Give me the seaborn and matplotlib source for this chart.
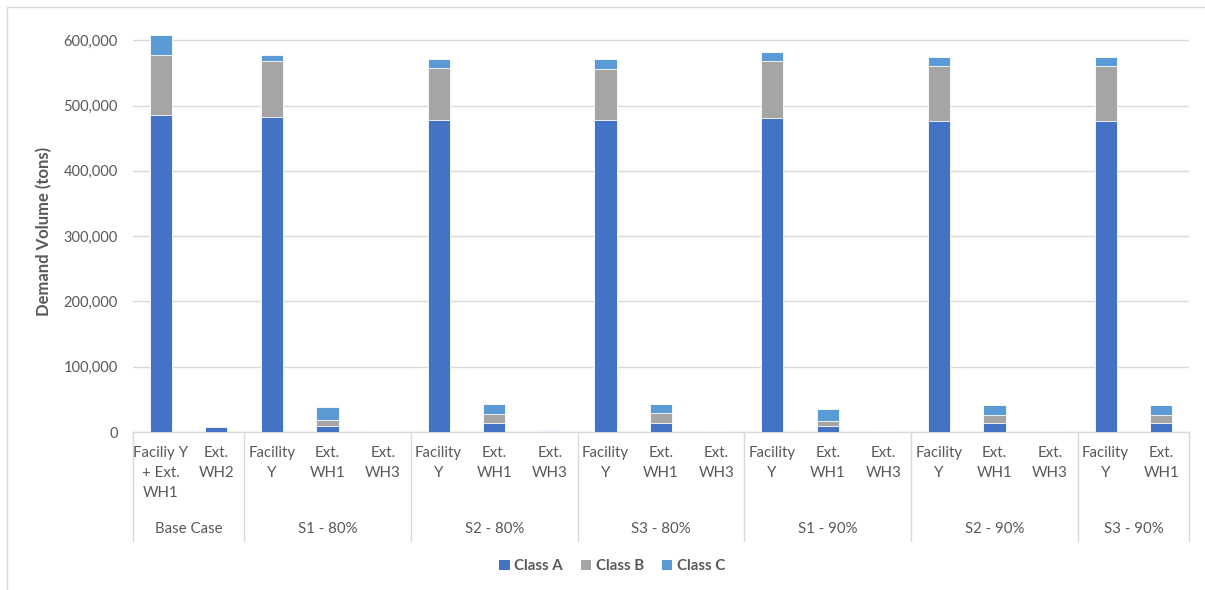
import matplotlib
matplotlib.use("Agg")
import matplotlib.pyplot as plt
import matplotlib.transforms as mtransforms
from matplotlib.patches import Patch, Rectangle
from matplotlib.ticker import FuncFormatter
import seaborn as sns
import pandas as pd

# ---------------- data ----------------
groups = ["Base Case", "S1 - 80%", "S2 - 80%", "S3 - 80%", "S1 - 90%", "S2 - 90%", "S3 - 90%"]
bar_group = ["Base Case", "Base Case",
             "S1 - 80%", "S1 - 80%", "S1 - 80%",
             "S2 - 80%", "S2 - 80%", "S2 - 80%",
             "S3 - 80%", "S3 - 80%", "S3 - 80%",
             "S1 - 90%", "S1 - 90%", "S1 - 90%",
             "S2 - 90%", "S2 - 90%", "S2 - 90%",
             "S3 - 90%", "S3 - 90%"]
bar_labels = ["Faciliy Y\n+ Ext.\nWH1", "Ext.\nWH2",
              "Facility\nY", "Ext.\nWH1", "Ext.\nWH3",
              "Facility\nY", "Ext.\nWH1", "Ext.\nWH3",
              "Facility\nY", "Ext.\nWH1", "Ext.\nWH3",
              "Facility\nY", "Ext.\nWH1", "Ext.\nWH3",
              "Facility\nY", "Ext.\nWH1", "Ext.\nWH3",
              "Facility\nY", "Ext.\nWH1"]
class_a = [485000, 7000, 482000, 9700, 300, 478000, 13300, 800, 478000, 14300, 300,
           481300, 9700, 300, 476700, 14300, 300, 476700, 14300]
class_b = [93000, 0, 85700, 8700, 300, 79300, 14300, 300, 78800, 14300, 300,
           87500, 7200, 300, 84300, 11300, 300, 84300, 11300]
class_c = [29600, 500, 10300, 20400, 400, 14000, 15400, 1900, 14300, 14300, 400,
           13300, 17900, 400, 14000, 16400, 400, 14000, 16400]
series_names = ["Class A", "Class B", "Class C"]
y_ticks = [0, 100000, 200000, 300000, 400000, 500000, 600000]

# ---------------- style ----------------
sns.set_style("white")
plt.rcParams["font.family"] = ["Lato", "DejaVu Sans"]
TXT = "#595959"
GRID = "#d9d9d9"
COL_A, COL_B, COL_C = "#4472C4", "#A5A5A5", "#5B9BD5"

W, H = 1205, 590
fig = plt.figure(figsize=(W / 100, H / 100), dpi=100)
ax = fig.add_axes([133 / W, 1 - 432 / H, (1189 - 133) / W, (432 - 24) / H])

slots = [str(i) for i in range(len(class_a))]
df = pd.DataFrame({
    "slot": slots,
    "A": class_a,
    "AB": [a + b for a, b in zip(class_a, class_b)],
    "ABC": [a + b + c for a, b, c in zip(class_a, class_b, class_c)],
})

common = dict(data=df, x="slot", order=slots, width=0.4, ax=ax,
              edgecolor="white", linewidth=0.6, errorbar=None, zorder=3)
sns.barplot(y="ABC", color=COL_C, saturation=1, **common)
sns.barplot(y="AB", color=COL_B, saturation=1, **common)
sns.barplot(y="A", color=COL_A, saturation=1, **common)

ax.set_xlim(-0.5, len(slots) - 0.5)
ax.set_ylim(0, 625000)
ax.set_yticks(y_ticks)
ax.yaxis.set_major_formatter(FuncFormatter(lambda v, p: f"{int(v):,}"))
ax.tick_params(axis="y", length=0, pad=11, labelsize=10.5, labelcolor=TXT)
ax.set_xticks([])
ax.set_xlabel("")
ax.set_ylabel("")
ax.yaxis.grid(True, color=GRID, lw=1, zorder=0)
ax.set_axisbelow(True)
for s in ["top", "right", "left"]:
    ax.spines[s].set_visible(False)
ax.spines["bottom"].set_color(GRID)
ax.spines["bottom"].set_linewidth(1)

# ---------------- hierarchical category axis ----------------
trans = mtransforms.blended_transform_factory(ax.transData, fig.transFigure)
for i, lab in enumerate(bar_labels):
    ax.text(i, 1 - 446 / H, lab, transform=trans, ha="center", va="top",
            fontsize=10.8, color=TXT, linespacing=1.55, clip_on=False)

# group boundaries and labels
bounds = [-0.5]
for gi, g in enumerate(groups):
    n = bar_group.count(g)
    start = bounds[-1]
    bounds.append(start + n)
    ax.text(start + n / 2, 1 - 529 / H, g, transform=trans, ha="center", va="center",
            fontsize=10.8, color=TXT, clip_on=False)
for b in bounds:
    ax.plot([b, b], [1 - 432 / H, 1 - 541 / H], transform=trans, color=GRID, lw=1,
            clip_on=False)

# y axis title
fig.text(44 / W, 1 - 231 / H, "Demand Volume (tons)", rotation=90, ha="center", va="center",
         fontsize=12, fontweight="bold", color=TXT)

# legend
handles = [Patch(facecolor=c, edgecolor="none", label=n)
           for c, n in zip([COL_A, COL_B, COL_C], series_names)]
leg = fig.legend(handles=handles, loc="center", bbox_to_anchor=(612 / W, 1 - 566 / H),
                 ncol=3, frameon=False, handlelength=0.7, handleheight=0.7,
                 handletextpad=0.3, columnspacing=1.2,
                 prop={"size": 10.8, "weight": "bold"})
for t in leg.get_texts():
    t.set_color(TXT)

# outer chart border
fig.patches.append(Rectangle((7 / W, -0.1), 1.2, 1 - 7 / H + 0.1, transform=fig.transFigure,
                             fill=False, edgecolor=GRID, lw=1))

fig.savefig("out.png", dpi=100)
